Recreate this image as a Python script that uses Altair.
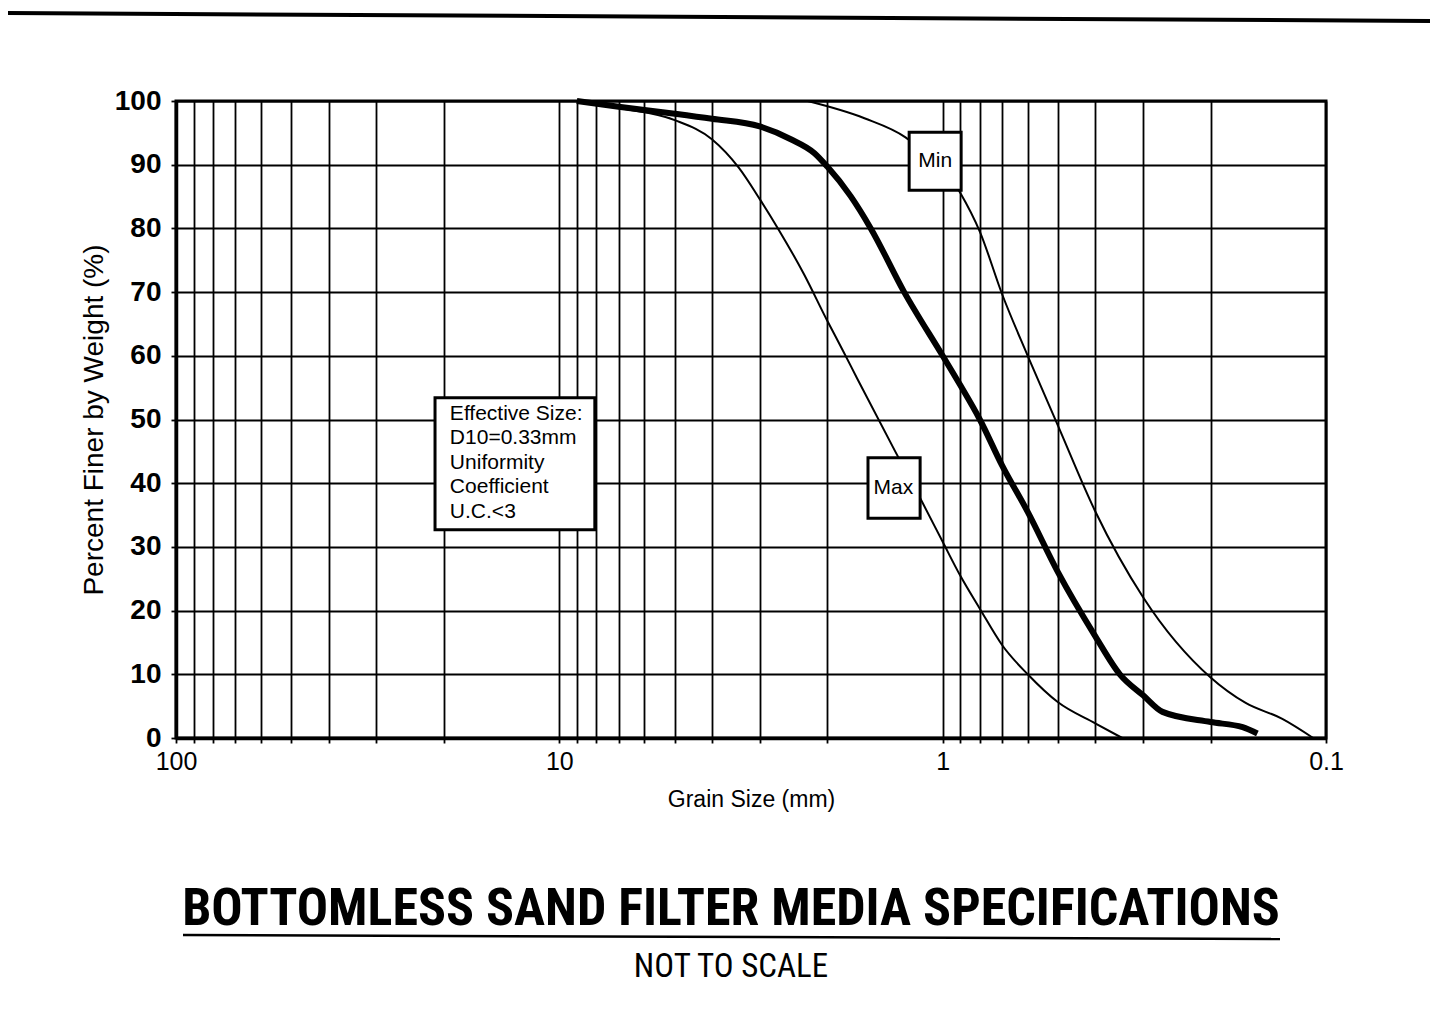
import altair as alt
import pandas as pd

# ---- data ----
max_size = [9, 7, 5, 4, 3.4, 3, 2.69, 2.3, 2, 1.82, 1.67, 1.33, 1.13, 1.0, 0.9, 0.8, 0.7, 0.6, 0.5, 0.4, 0.34]
max_pct = [100, 98.9, 97, 94, 89.5, 84.6, 80, 72.8, 65.5, 60.8, 56.4, 45, 37, 30.8, 25.5, 20.3, 14.6, 10, 5.6, 2.3, 0]

spec_size = [9, 7, 5, 4, 3, 2.49, 2.16, 2.0, 1.74, 1.54, 1.26, 1.0, 0.9, 0.8, 0.7, 0.6, 0.5, 0.4, 0.345, 0.3, 0.267, 0.2, 0.165, 0.151]
spec_pct = [100, 99.1, 98, 97.2, 96, 94, 91.8, 89.7, 85.1, 80, 70, 60, 55.4, 50, 42.8, 35.5, 26, 16, 10, 6.7, 4.1, 2.5, 1.7, 0.7]

min_size = [2.25, 1.6, 1.25, 0.9, 0.8, 0.7, 0.6, 0.5, 0.4, 0.3, 0.2, 0.162, 0.13, 0.108]
min_pct = [100, 97.3, 94.3, 85.6, 79.5, 69.7, 60, 49, 35.6, 22.1, 9.5, 5.5, 3, 0]

x_grid_values = [100, 90, 80, 70, 60, 50, 40, 30, 20,
                 10, 9, 8, 7, 6, 5, 4, 3, 2,
                 1, 0.9, 0.8, 0.7, 0.6, 0.5, 0.4, 0.3, 0.2, 0.1]
y_values = [0, 10, 20, 30, 40, 50, 60, 70, 80, 90, 100]

# annotation boxes (data coordinates)
box_name = ["Min", "Max", "Info"]
box_x1 = [1.223, 1.566, 21.1]
box_x2 = [0.895, 1.145, 8.08]
box_y1 = [86.0, 34.5, 32.7]
box_y2 = [95.1, 44.0, 53.4]

label_text = ["Min", "Max"]
label_x = [1.046, 1.345]
label_y = [90.6, 39.2]

info_text = "Effective Size:\nD10=0.33mm\nUniformity\nCoefficient\nU.C.<3"
info_x = [19.3]
info_y = [52.6]

title_text = "BOTTOMLESS SAND FILTER MEDIA SPECIFICATIONS"
subtitle_text = "NOT TO SCALE"


def series(name, sizes, pcts):
    return pd.DataFrame({"size": sizes, "pct": pcts, "curve": name,
                         "idx": list(range(len(sizes)))})


thin_df = pd.concat([series("Max", max_size, max_pct), series("Min", min_size, min_pct)])
thick_df = series("Spec", spec_size, spec_pct)
box_df = pd.DataFrame({"name": box_name, "x1": box_x1, "x2": box_x2, "y1": box_y1, "y2": box_y2})
label_df = pd.DataFrame({"text": label_text, "x": label_x, "y": label_y})
info_df = pd.DataFrame({"text": [info_text], "x": info_x, "y": info_y})

FONT = "Liberation Sans"
NARROW = "Liberation Sans Narrow, Roboto Condensed, DejaVu Sans Condensed, Liberation Sans"
x_scale = alt.Scale(type="log", domain=[0.1, 100], reverse=True, nice=False)
y_scale = alt.Scale(domain=[0, 100], nice=False)

x_axis = alt.Axis(values=x_grid_values, format="~g",
                  labelExpr="datum.value == 100 || datum.value == 10 || datum.value == 1 || datum.value == 0.1 ? datum.label : ''",
                  labelFontSize=25, labelPadding=6, tickSize=5,
                  titleFontSize=23, titlePadding=14, titleFontWeight="normal", labelFlush=False)
y_axis = alt.Axis(values=y_values, labelFontSize=28, labelFontWeight="bold",
                  labelPadding=10, tickSize=5, titleFontSize=28, titlePadding=6,
                  titleFontWeight="normal")

XT = "Grain Size (mm)"
YT = "Percent Finer by Weight (%)"

thin = alt.Chart(thin_df).mark_line(color="black", strokeWidth=2, interpolate="monotone").encode(
    x=alt.X("size:Q", scale=x_scale, axis=x_axis, title=XT),
    y=alt.Y("pct:Q", scale=y_scale, axis=y_axis, title=YT),
    detail="curve:N",
    order="idx:Q",
)

thick = alt.Chart(thick_df).mark_line(color="black", strokeWidth=6, interpolate="monotone").encode(
    x=alt.X("size:Q", scale=x_scale, axis=x_axis, title=XT),
    y=alt.Y("pct:Q", scale=y_scale, axis=y_axis, title=YT),
    order="idx:Q",
)

boxes = alt.Chart(box_df).mark_rect(fill="white", stroke="black", strokeWidth=3).encode(
    x=alt.X("x1:Q", scale=x_scale, axis=x_axis, title=XT),
    x2="x2:Q",
    y=alt.Y("y1:Q", scale=y_scale, axis=y_axis, title=YT),
    y2="y2:Q",
)

labels = alt.Chart(label_df).mark_text(font=FONT, fontSize=21, color="black",
                                       align="center", baseline="middle").encode(
    x=alt.X("x:Q", scale=x_scale, axis=x_axis, title=XT),
    y=alt.Y("y:Q", scale=y_scale, axis=y_axis, title=YT),
    text="text:N",
)

info = alt.Chart(info_df).mark_text(font=FONT, fontSize=21, color="black", align="left",
                                    baseline="top", lineBreak="\n", lineHeight=24.5).encode(
    x=alt.X("x:Q", scale=x_scale, axis=x_axis, title=XT),
    y=alt.Y("y:Q", scale=y_scale, axis=y_axis, title=YT),
    text="text:N",
)

# decorative page frame line and title underline
frame = alt.Chart(pd.DataFrame({"k": [0]})).mark_rule(color="black", strokeWidth=4).encode(
    x=alt.value(-168), x2=alt.value(1254), y=alt.value(-88), y2=alt.value(-80))
underline = alt.Chart(pd.DataFrame({"k": [0]})).mark_rule(color="black", strokeWidth=2.5).encode(
    x=alt.value(7), x2=alt.value(1104), y=alt.value(834), y2=alt.value(838))

chart = alt.layer(thin, thick, boxes, labels, info, frame, underline).properties(
    width=1150, height=637,
    background="white",
    autosize=alt.AutoSizeParams(type="none"),
    padding={"left": 168, "top": 93, "right": 106, "bottom": 265},
    title=alt.TitleParams(
        text=title_text, subtitle=subtitle_text, orient="bottom", anchor="middle",
        frame="group", font=NARROW,
        fontSize=52, fontWeight="bold", color="black",
        subtitleFont=NARROW,
        subtitleFontSize=33, subtitleColor="black", subtitlePadding=15,
        offset=-56, dx=-20,
    ),
).configure_view(stroke="black", strokeWidth=3).configure_axis(
    labelFont=FONT, titleFont=FONT, labelColor="black", titleColor="black",
    gridColor="black", gridOpacity=1, gridWidth=1.8, tickColor="black", tickWidth=1.8,
    domainColor="black", domainWidth=3.5,
)

chart.save("out.html", embed_options={"renderer": "svg", "actions": False})
